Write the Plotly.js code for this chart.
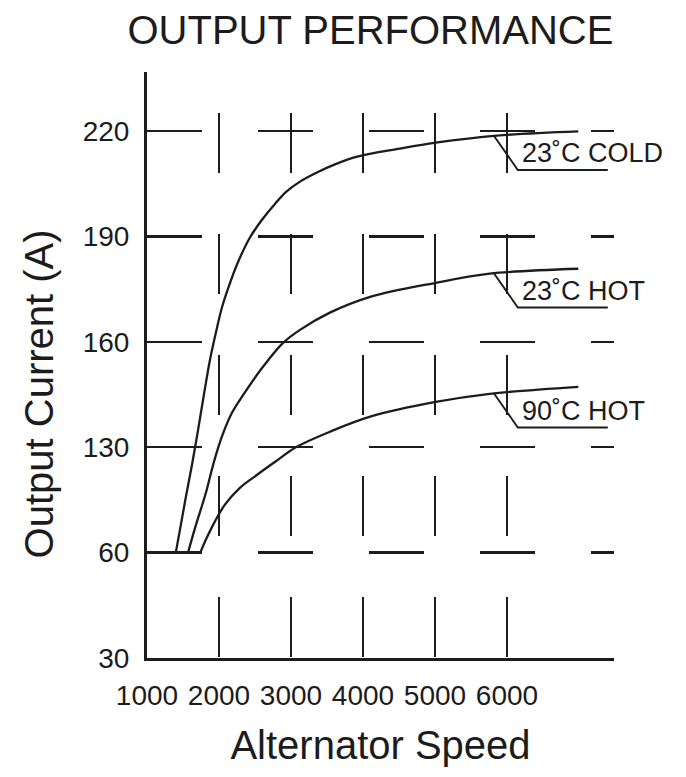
<!DOCTYPE html>
<html>
<head>
<meta charset="utf-8">
<script src="https://cdn.plot.ly/plotly-3.0.1.min.js"></script>
<style>
html, body { margin: 0; padding: 0; background: #ffffff; }
#chart { width: 686px; height: 777px; }
</style>
</head>
<body>
<div id="chart"></div>
<script>
// ---- Data ----
const speedTicks = [1000, 2000, 3000, 4000, 5000, 6000];
const speedTickText = ['1000', '2000', '3000', '4000', '5000', '6000'];
const currentTicks = [30, 60, 130, 160, 190, 220];
const currentTickText = ['30', '60', '130', '160', '190', '220'];

const seriesNames = ['23˚C COLD', '23˚C HOT', '90˚C HOT'];

const coldSpeed   = [1400, 1470, 1540, 1625, 1710, 1790, 1875, 1960, 2040, 2140, 2260, 2430, 2600, 2780, 2940, 3125, 3360, 3610, 3920, 4510, 5010, 5860, 6990];
const coldCurrent = [60, 78.4, 97.0, 118.3, 135.0, 144.9, 154.9, 162.9, 169.7, 176.0, 182.5, 189.7, 194.8, 199.3, 202.8, 205.6, 208.2, 210.5, 212.7, 215.0, 216.7, 218.7, 219.9];

const hot23Speed   = [1570, 1680, 1810, 1930, 2040, 2180, 2360, 2600, 2890, 3125, 3540, 4100, 5010, 5760, 6990];
const hot23Current = [60, 78.4, 98.4, 120.3, 133.0, 139.8, 145.6, 152.6, 159.7, 163.4, 168.3, 172.8, 176.8, 179.4, 180.8];

const hot90Speed   = [1740, 1830, 1940, 2080, 2290, 2530, 2780, 3080, 3540, 4100, 5010, 5760, 6990];
const hot90Current = [60, 69.8, 80.4, 91.7, 103.0, 111.7, 120.3, 130.1, 134.4, 138.7, 142.9, 145.2, 147.2];

const leaderSpeed = [5820, 6150, 7400];   // where each label's leader starts, bends, ends

// ---- The current axis in the reference is evenly spaced per tick (piecewise) ----
function toAxis(a) {
  const t = currentTicks;
  let i = 0;
  while (i < t.length - 2 && a > t[i + 1]) i++;
  return i + (a - t[i]) / (t[i + 1] - t[i]);
}
function interp(xs, ys, x) {
  for (let i = 0; i < xs.length - 1; i++) {
    if (x >= xs[i] && x <= xs[i + 1]) {
      return ys[i] + (ys[i + 1] - ys[i]) * (x - xs[i]) / (xs[i + 1] - xs[i]);
    }
  }
  return ys[ys.length - 1];
}

const ink = '#1c1c1c';
const FONT = 'Liberation Sans, Arial, Helvetica, sans-serif';

const series = [
  { name: seriesNames[0], x: coldSpeed,  y: coldCurrent },
  { name: seriesNames[1], x: hot23Speed, y: hot23Current },
  { name: seriesNames[2], x: hot90Speed, y: hot90Current }
];

const traces = [];
const annotations = [];
const DROP = 0.323;   // leader drop (axis units)
const TEXT_UP = 0.16; // label above its underline (axis units)

series.forEach(s => {
  traces.push({
    type: 'scatter', mode: 'lines', name: s.name,
    x: s.x, y: s.y.map(toAxis),
    line: { color: ink, width: 2.3, shape: 'spline', smoothing: 1 },
    hoverinfo: 'skip', showlegend: false
  });
  const y0 = toAxis(interp(s.x, s.y, leaderSpeed[0]));
  const yu = y0 - DROP;
  traces.push({
    type: 'scatter', mode: 'lines',
    x: leaderSpeed, y: [y0, yu, yu],
    line: { color: ink, width: 1.9 },
    hoverinfo: 'skip', showlegend: false
  });
  annotations.push({
    xref: 'x', yref: 'y', x: 6180, y: yu + TEXT_UP,
    text: s.name, showarrow: false, xanchor: 'left', yanchor: 'middle',
    font: { family: FONT, size: 27, color: ink }
  });
});

annotations.push({
  xref: 'paper', yref: 'paper', x: -0.231, y: 0.45,
  text: 'Output Current (A)', textangle: -90, showarrow: false,
  xanchor: 'center', yanchor: 'middle',
  font: { family: FONT, size: 40, color: ink }
});

const layout = {
  width: 686, height: 777,
  margin: { l: 147, r: 72, t: 72, b: 119, pad: 0 },
  paper_bgcolor: '#ffffff', plot_bgcolor: '#ffffff',
  font: { family: FONT, color: ink },
  showlegend: false,
  title: {
    text: 'OUTPUT PERFORMANCE',
    font: { family: FONT, size: 40, color: ink },
    xref: 'container', yref: 'container',
    x: 0.540, xanchor: 'center', y: 0.961, yanchor: 'middle'
  },
  xaxis: {
    range: [1000, 7486], autorange: false, automargin: false,
    tickvals: speedTicks, ticktext: speedTickText, ticks: '',
    tickfont: { family: FONT, size: 28, color: ink },
    ticklabelstandoff: 10,
    showline: true, linecolor: ink, linewidth: 3,
    showgrid: true, gridcolor: ink, gridwidth: 2.5,
    griddash: '0px,41px,60px,61px,60px,61px,60px,61px,60px,61px,60px,61px',
    zeroline: false,
    title: { text: 'Alternator Speed', font: { family: FONT, size: 40, color: ink }, standoff: 22 }
  },
  yaxis: {
    range: [0, 5.56], autorange: false, automargin: false,
    tickvals: currentTicks.map(toAxis), ticktext: currentTickText, ticks: '',
    showline: true, linecolor: ink, linewidth: 3,
    showgrid: true, gridcolor: ink, gridwidth: 2.5,
    griddash: '55px,56px',
    zeroline: false,
    tickfont: { family: FONT, size: 28, color: ink },
    ticklabelstandoff: 9
  },
  annotations: annotations
};

Plotly.newPlot('chart', traces, layout, { displayModeBar: false, staticPlot: true });
</script>
</body>
</html>
